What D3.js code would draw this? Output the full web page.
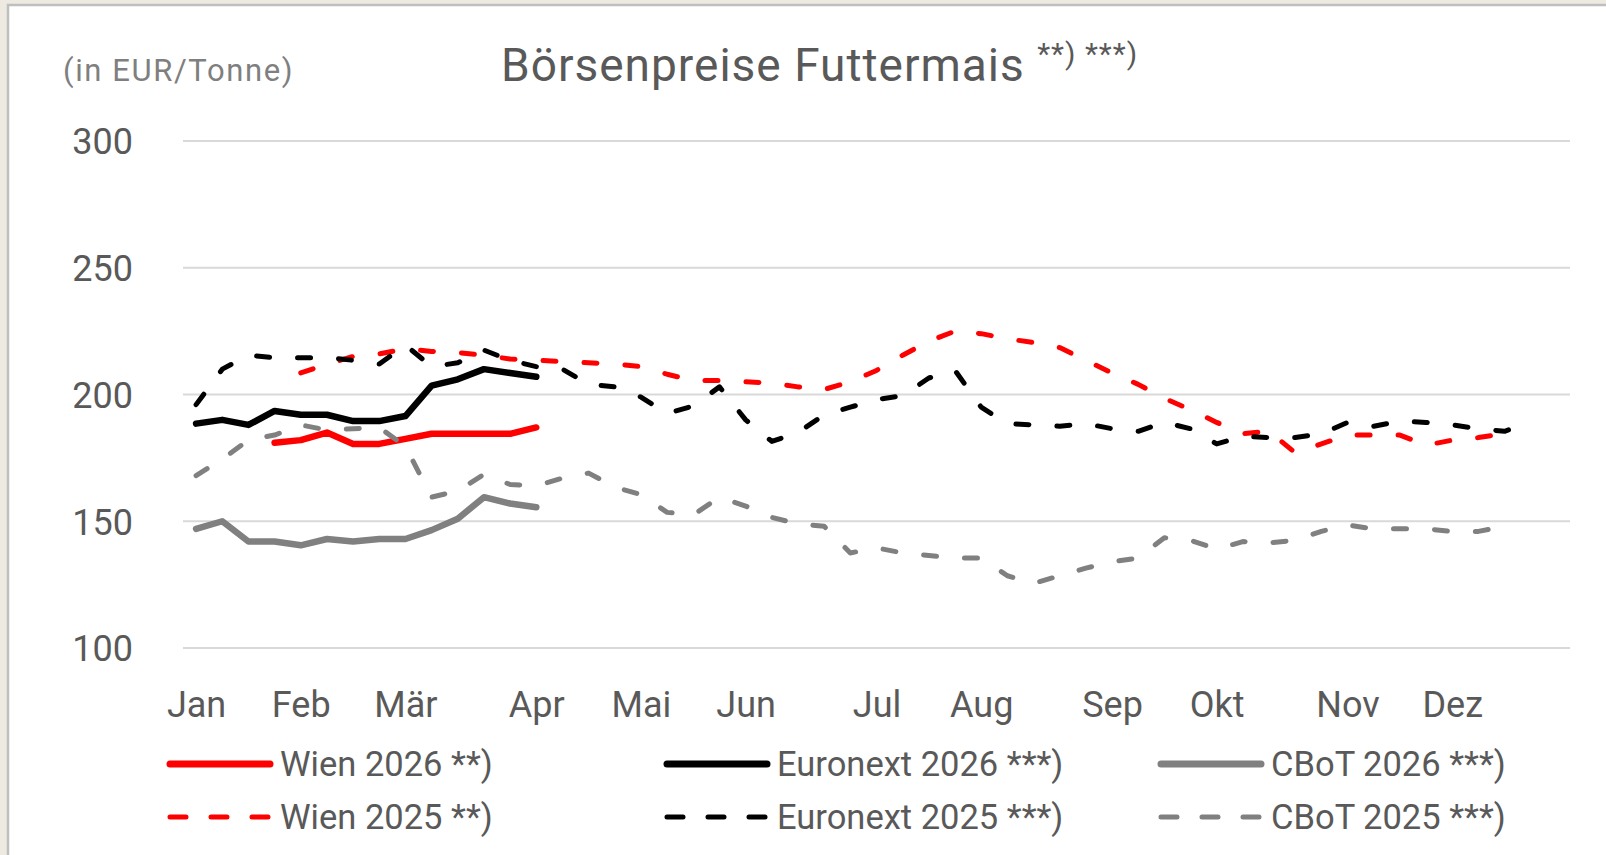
<!DOCTYPE html>
<html>
<head>
<meta charset="utf-8">
<title>Börsenpreise Futtermais</title>
<script src="https://cdn.jsdelivr.net/npm/d3@7"></script>
<style>
  body { margin:0; background:#eee9e1; overflow:hidden; }
  text { font-family: Roboto, 'Open Sans', sans-serif; fill:#595959; }
  .grid-line { stroke:#d9d9d9; stroke-width:2; }
  .series { fill:none; stroke-linejoin:round; stroke-linecap:round; }
  .axis path { display:none; }
</style>
</head>
<body>
<script>
// Kalenderwochen als Kategorien, Monatsnamen nur an einzelnen Wochen
var weeks = d3.range(1, 54);
var monthLabels = ["Jan", "Feb", "Mär", "Apr", "Mai", "Jun", "Jul", "Aug", "Sep", "Okt", "Nov", "Dez"];
var monthWeeks = [1, 5, 9, 14, 18, 22, 27, 31, 36, 40, 45, 49];
var yTicks = [100, 150, 200, 250, 300];

// Preise EUR/t, Index = Woche - 1 (null = keine Notierung)
var wien2026 = [null, null, null, 181, 182, 185, 180.5, 180.5, 182.5, 184.5, 184.5, 184.5, 184.5, 187];
var euronext2026 = [188.5, 190, 188, 193.5, 192, 192, 189.5, 189.5, 191.5, 203.5, 206, 210, 208.5, 207];
var cbot2026 = [147, 150, 142, 142, 140.5, 143, 142, 143, 143, 146.5, 151, 159.5, 157, 155.5];

var wien2025 = [null, null, null, null, 208.5, 212, 215, 216, 218, 217, 216.5, 215.5, 214, 213.5,
  213, 212.5, 212, 211, 208, 205.5, 205.5, 205, 204.5, 203, 202, 205, 209.5, 215.5, 221, 225,
  224, 222, 220.5, 218.5, 213.5, 208.5, 204, 198.5, 194, 189, 184.5, 185.5, 177, 180.5, 184,
  184, 184, 180, 182, 183, 184.5];
var euronext2025 = [196, 210, 215.5, 214.5, 214.5, 214.5, 213.5, 212, 219.5, 211, 212.5, 217.5,
  213.5, 211, 210, 204, 203, 199, 192.5, 195.5, 203, 190, 181.5, 185, 192, 195, 198, 199.5,
  206.5, 209.5, 195, 188.5, 188, 187.5, 188.5, 186.5, 185.5, 189, 186.5, 180.5, 183.5, 183,
  183, 184.5, 189, 187.5, 189.5, 189, 188, 186.5, 185.5, 189];
var cbot2025 = [168, 174.5, 182, 184, 188, 186, 186.5, 187, 179.5, 159.5, 162, 168.5, 164.5, 164,
  167, 169, 163.5, 160.5, 153.5, 152.5, 159.5, 156, 151.5, 149, 148, 137.5, 139.5, 137.5, 136.5,
  135.5, 135.5, 128.5, 125.5, 128.5, 131.5, 134, 135.5, 143.5, 142.5, 139, 142, 141.5, 142.5,
  146, 148.5, 147, 147, 147, 146, 146, 148];

var series = [
  {name: "Wien 2026 **)", values: wien2026, color: "#ff0000", dashed: false, col: 0, row: 0},
  {name: "Wien 2025 **)", values: wien2025, color: "#ff0000", dashed: true, col: 0, row: 1},
  {name: "Euronext 2026 ***)", values: euronext2026, color: "#000000", dashed: false, col: 1, row: 0},
  {name: "Euronext 2025 ***)", values: euronext2025, color: "#000000", dashed: true, col: 1, row: 1},
  {name: "CBoT 2026 ***)", values: cbot2026, color: "#808080", dashed: false, col: 2, row: 0},
  {name: "CBoT 2025 ***)", values: cbot2025, color: "#808080", dashed: true, col: 2, row: 1}
];

var W = 1606, H = 855;
var plot = {left: 183, right: 1570, top: 141, bottom: 648};

var svg = d3.select("body").append("svg")
  .attr("width", W)
  .attr("height", H);

// weisses Diagrammfeld mit grauem Rand
svg.append("rect")
  .attr("x", 8).attr("y", 5)
  .attr("width", W).attr("height", H)
  .attr("fill", "#fff")
  .attr("stroke", "#bfbfbf")
  .attr("stroke-width", 2.5);

var x = d3.scalePoint()
  .domain(weeks)
  .range([plot.left, plot.right])
  .padding(0.5);

var y = d3.scaleLinear()
  .domain([100, 300])
  .range([plot.bottom, plot.top]);

// Titel
var title = svg.append("text")
  .attr("x", 501)
  .attr("y", 81)
  .style("font-size", "46px")
  .style("letter-spacing", "1px")
  .text("Börsenpreise Futtermais ");
title.append("tspan")
  .attr("dy", -17)
  .style("font-size", "30px")
  .style("letter-spacing", "1px")
  .text("**) ***)");

svg.append("text")
  .attr("x", 63)
  .attr("y", 81)
  .style("font-size", "31px")
  .style("letter-spacing", "1.6px")
  .style("fill", "#7f7f7f")
  .text("(in EUR/Tonne)");

// Gitterlinien
svg.append("g").selectAll("line")
  .data(yTicks)
  .enter().append("line")
    .attr("class", "grid-line")
    .attr("x1", plot.left)
    .attr("x2", plot.right)
    .attr("y1", d => y(d))
    .attr("y2", d => y(d));

var yAxis = svg.append("g")
  .attr("class", "axis")
  .attr("transform", "translate(133,0)")
  .call(d3.axisLeft(y).tickValues(yTicks).tickSize(0).tickPadding(0));
yAxis.selectAll("text")
  .attr("dy", "0.36em")
  .style("font-size", "36px")
  .style("fill", "#595959");

var xAxis = svg.append("g")
  .attr("class", "axis")
  .call(d3.axisBottom(x)
    .tickValues(monthWeeks)
    .tickFormat((d, i) => monthLabels[i])
    .tickSize(0));
xAxis.selectAll("text")
  .attr("y", 717)
  .attr("dy", 0)
  .style("font-size", "36px")
  .style("fill", "#595959");

var line = d3.line()
  .defined(d => d.v != null)
  .x(d => x(d.week))
  .y(d => y(d.v));

svg.append("g").selectAll("path")
  .data(series)
  .enter().append("path")
    .attr("class", "series")
    .attr("d", s => line(s.values.map((v, i) => ({week: weeks[i], v: v}))))
    .attr("stroke", s => s.color)
    .attr("stroke-width", s => s.dashed ? 5 : 6.5)
    .attr("stroke-dasharray", s => s.dashed ? "13,28" : null);

// Legende 3 Spalten x 2 Zeilen
var legendCols = [170, 667, 1161];
var legendRows = [764, 817];

var legend = svg.append("g").selectAll("g")
  .data(series)
  .enter().append("g")
    .attr("transform", s => "translate(" + legendCols[s.col] + "," + legendRows[s.row] + ")");

legend.append("line")
  .attr("class", "series")
  .attr("x1", 0)
  .attr("x2", 100)
  .attr("stroke", s => s.color)
  .attr("stroke-width", s => s.dashed ? 5 : 7)
  .attr("stroke-dasharray", s => s.dashed ? "16,25" : null);

legend.append("text")
  .attr("x", 110)
  .attr("dy", "0.36em")
  .style("font-size", "34.5px")
  .text(s => s.name);
</script>
</body>
</html>
